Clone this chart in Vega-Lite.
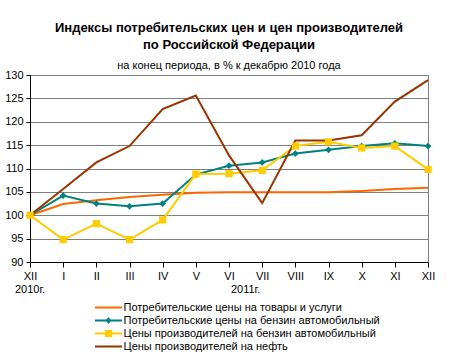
{
  "$schema": "https://vega.github.io/schema/vega-lite/v6.json",
  "autosize": {"type": "none"},
  "padding": {"left": 30, "top": 75, "right": 24, "bottom": 96},
  "width": 398,
  "height": 187,
  "background": "white",
  "title": {
    "text": ["Индексы потребительских цен и цен производителей", "по Российской Федерации"],
    "subtitle": "на конец периода, в % к декабрю 2010 года",
    "anchor": "middle",
    "frame": "group",
    "font": "Liberation Sans",
    "fontSize": 13,
    "fontWeight": "bold",
    "color": "black",
    "lineHeight": 17,
    "subtitleFont": "Liberation Sans",
    "subtitleFontSize": 11,
    "subtitleColor": "black",
    "subtitlePadding": 8,
    "offset": -2
  },
  "config": {
    "view": {"stroke": "#808080", "strokeWidth": 1},
    "axis": {
      "labelFont": "Liberation Sans",
      "labelFontSize": 11,
      "labelColor": "black",
      "domainColor": "black",
      "tickColor": "black",
      "gridColor": "#808080",
      "gridOpacity": 1,
      "title": null
    },
    "legend": {
      "labelFont": "Liberation Sans",
      "labelFontSize": 11,
      "labelColor": "black",
      "labelLimit": 400
    }
  },
  "datasets": {
    "main": [
      {"m": 0, "series": "Потребительские цены на товары и услуги", "v": 100},
      {"m": 1, "series": "Потребительские цены на товары и услуги", "v": 102.4},
      {"m": 2, "series": "Потребительские цены на товары и услуги", "v": 103.2},
      {"m": 3, "series": "Потребительские цены на товары и услуги", "v": 103.9},
      {"m": 4, "series": "Потребительские цены на товары и услуги", "v": 104.4},
      {"m": 5, "series": "Потребительские цены на товары и услуги", "v": 104.8},
      {"m": 6, "series": "Потребительские цены на товары и услуги", "v": 104.9},
      {"m": 7, "series": "Потребительские цены на товары и услуги", "v": 104.9},
      {"m": 8, "series": "Потребительские цены на товары и услуги", "v": 104.9},
      {"m": 9, "series": "Потребительские цены на товары и услуги", "v": 104.9},
      {"m": 10, "series": "Потребительские цены на товары и услуги", "v": 105.2},
      {"m": 11, "series": "Потребительские цены на товары и услуги", "v": 105.6},
      {"m": 12, "series": "Потребительские цены на товары и услуги", "v": 105.9},
      {"m": 0, "series": "Потребительские цены на бензин автомобильный", "v": 100},
      {"m": 1, "series": "Потребительские цены на бензин автомобильный", "v": 104.2},
      {"m": 2, "series": "Потребительские цены на бензин автомобильный", "v": 102.5},
      {"m": 3, "series": "Потребительские цены на бензин автомобильный", "v": 101.9},
      {"m": 4, "series": "Потребительские цены на бензин автомобильный", "v": 102.5},
      {"m": 5, "series": "Потребительские цены на бензин автомобильный", "v": 108.7},
      {"m": 6, "series": "Потребительские цены на бензин автомобильный", "v": 110.6},
      {"m": 7, "series": "Потребительские цены на бензин автомобильный", "v": 111.3},
      {"m": 8, "series": "Потребительские цены на бензин автомобильный", "v": 113.2},
      {"m": 9, "series": "Потребительские цены на бензин автомобильный", "v": 114.0},
      {"m": 10, "series": "Потребительские цены на бензин автомобильный", "v": 114.8},
      {"m": 11, "series": "Потребительские цены на бензин автомобильный", "v": 115.4},
      {"m": 12, "series": "Потребительские цены на бензин автомобильный", "v": 114.8},
      {"m": 0, "series": "Цены производителей на бензин автомобильный", "v": 100},
      {"m": 1, "series": "Цены производителей на бензин автомобильный", "v": 94.8},
      {"m": 2, "series": "Цены производителей на бензин автомобильный", "v": 98.2},
      {"m": 3, "series": "Цены производителей на бензин автомобильный", "v": 94.8},
      {"m": 4, "series": "Цены производителей на бензин автомобильный", "v": 99.0},
      {"m": 5, "series": "Цены производителей на бензин автомобильный", "v": 108.8},
      {"m": 6, "series": "Цены производителей на бензин автомобильный", "v": 108.9},
      {"m": 7, "series": "Цены производителей на бензин автомобильный", "v": 109.6},
      {"m": 8, "series": "Цены производителей на бензин автомобильный", "v": 114.8},
      {"m": 9, "series": "Цены производителей на бензин автомобильный", "v": 115.7},
      {"m": 10, "series": "Цены производителей на бензин автомобильный", "v": 114.4},
      {"m": 11, "series": "Цены производителей на бензин автомобильный", "v": 114.8},
      {"m": 12, "series": "Цены производителей на бензин автомобильный", "v": 109.8},
      {"m": 0, "series": "Цены производителей на нефть", "v": 100},
      {"m": 1, "series": "Цены производителей на нефть", "v": 105.6},
      {"m": 2, "series": "Цены производителей на нефть", "v": 111.3},
      {"m": 3, "series": "Цены производителей на нефть", "v": 114.8},
      {"m": 4, "series": "Цены производителей на нефть", "v": 122.7},
      {"m": 5, "series": "Цены производителей на нефть", "v": 125.6},
      {"m": 6, "series": "Цены производителей на нефть", "v": 112.8},
      {"m": 7, "series": "Цены производителей на нефть", "v": 102.6},
      {"m": 8, "series": "Цены производителей на нефть", "v": 116.0},
      {"m": 9, "series": "Цены производителей на нефть", "v": 116.0},
      {"m": 10, "series": "Цены производителей на нефть", "v": 117.1},
      {"m": 11, "series": "Цены производителей на нефть", "v": 124.3},
      {"m": 12, "series": "Цены производителей на нефть", "v": 128.9}
    ],
    "years": [
      {"m": 0, "label": "2010г."},
      {"m": 6.5, "label": "2011г."}
    ]
  },
  "encoding": {
    "x": {
      "field": "m",
      "type": "quantitative",
      "scale": {"domain": [0, 12], "nice": false, "zero": false},
      "axis": {
        "values": [0, 1, 2, 3, 4, 5, 6, 7, 8, 9, 10, 11, 12],
        "labelExpr": "['XII','I','II','III','IV','V','VI','VII','VIII','IX','X','XI','XII'][datum.value]",
        "grid": false,
        "tickSize": 5,
        "labelPadding": 3,
        "labelFlush": false,
        "labelOverlap": false
      }
    }
  },
  "layer": [
    {
      "data": {"name": "main"},
      "mark": {"type": "line", "strokeWidth": 2},
      "encoding": {
        "y": {
          "field": "v", "type": "quantitative",
          "scale": {"domain": [90, 130], "nice": false, "zero": false},
          "axis": {"values": [90, 95, 100, 105, 110, 115, 120, 125, 130], "grid": true, "tickSize": 4, "labelPadding": 3, "labelOverlap": false}
        },
        "stroke": {
          "field": "series",
          "type": "nominal",
          "scale": {
            "domain": ["Цены производителей на нефть", "Цены производителей на бензин автомобильный", "Потребительские цены на бензин автомобильный", "Потребительские цены на товары и услуги"],
            "range": ["#993300", "#FFCC00", "#008080", "#FF6600"]
          },
          "legend": null
        }
      }
    },
    {
      "data": {"name": "main"},
      "transform": [{"filter": "datum.series === 'Потребительские цены на бензин автомобильный'"}],
      "mark": {"type": "point", "shape": "diamond", "filled": true, "size": 45, "color": "#008080", "opacity": 1},
      "encoding": {
        "y": {
          "field": "v", "type": "quantitative",
          "scale": {"domain": [90, 130], "nice": false, "zero": false},
          "axis": {"values": [90, 95, 100, 105, 110, 115, 120, 125, 130], "grid": true, "tickSize": 4, "labelPadding": 3, "labelOverlap": false}
        }
      }
    },
    {
      "data": {"name": "main"},
      "transform": [{"filter": "datum.series === 'Цены производителей на бензин автомобильный'"}],
      "mark": {"type": "point", "shape": "square", "filled": true, "size": 52, "color": "#FFCC00", "opacity": 1},
      "encoding": {
        "y": {
          "field": "v", "type": "quantitative",
          "scale": {"domain": [90, 130], "nice": false, "zero": false},
          "axis": {"values": [90, 95, 100, 105, 110, 115, 120, 125, 130], "grid": true, "tickSize": 4, "labelPadding": 3, "labelOverlap": false}
        }
      }
    },
    {
      "data": {"name": "main"},
      "mark": {"type": "point", "filled": true, "opacity": 0, "size": 100},
      "encoding": {
        "y": {
          "field": "v", "type": "quantitative",
          "scale": {"domain": [90, 130], "nice": false, "zero": false},
          "axis": {"values": [90, 95, 100, 105, 110, 115, 120, 125, 130], "grid": true, "tickSize": 4, "labelPadding": 3, "labelOverlap": false}
        },
        "color": {
          "field": "series",
          "type": "nominal",
          "scale": {
            "domain": ["Потребительские цены на товары и услуги", "Потребительские цены на бензин автомобильный", "Цены производителей на бензин автомобильный", "Цены производителей на нефть"],
            "range": ["#FF6600", "#008080", "#FFCC00", "#993300"]
          },
          "legend": {
            "title": null,
            "orient": "none",
            "legendX": 73,
            "legendY": 227,
            "padding": 0,
            "symbolSize": 100,
            "symbolOpacity": 1,
            "symbolStrokeWidth": 0,
            "labelOffset": 9.5,
            "rowPadding": 1
          }
        },
        "shape": {
          "field": "series",
          "type": "nominal",
          "scale": {
            "domain": ["Потребительские цены на товары и услуги", "Потребительские цены на бензин автомобильный", "Цены производителей на бензин автомобильный", "Цены производителей на нефть"],
            "range": [
              "M-2.7,-0.2H2.7V0.2H-2.7Z",
              "M-2.7,-0.2H2.7V0.2H-2.7Z M0,-0.65L0.65,0L0,0.65L-0.65,0Z",
              "M-2.7,-0.2H2.7V0.2H-2.7Z M-0.7,-0.7H0.7V0.7H-0.7Z",
              "M-2.7,-0.2H2.7V0.2H-2.7Z"
            ]
          },
          "legend": {
            "title": null,
            "orient": "none",
            "legendX": 73,
            "legendY": 227,
            "padding": 0,
            "symbolSize": 100,
            "symbolOpacity": 1,
            "symbolStrokeWidth": 0,
            "labelOffset": 9.5,
            "rowPadding": 1
          }
        }
      }
    },
    {
      "data": {"name": "years"},
      "mark": {"type": "text", "font": "Liberation Sans", "fontSize": 11, "color": "black", "baseline": "middle", "align": "center"},
      "encoding": {
        "y": {
          "datum": 84, "type": "quantitative",
          "scale": {"domain": [90, 130], "nice": false, "zero": false},
          "axis": {"values": [90, 95, 100, 105, 110, 115, 120, 125, 130], "grid": true, "tickSize": 4, "labelPadding": 3, "labelOverlap": false}
        },
        "text": {"field": "label", "type": "nominal"}
      }
    }
  ]
}
